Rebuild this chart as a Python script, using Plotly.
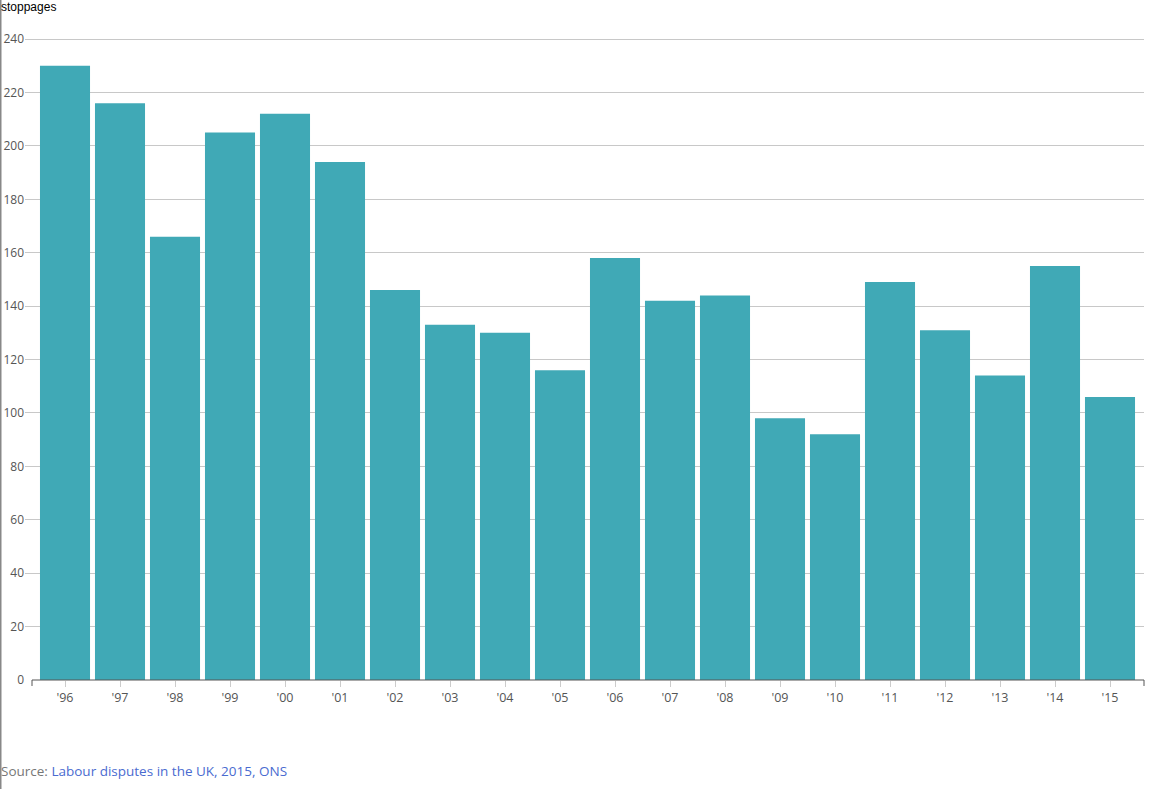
import plotly.graph_objects as go

years = ["'96", "'97", "'98", "'99", "'00", "'01", "'02", "'03", "'04", "'05",
         "'06", "'07", "'08", "'09", "'10", "'11", "'12", "'13", "'14", "'15"]
stoppages = [230, 216, 166, 205, 212, 194, 146, 133, 130, 116,
             158, 142, 144, 98, 92, 149, 131, 114, 155, 106]
y_ticks = [0, 20, 40, 60, 80, 100, 120, 140, 160, 180, 200, 220, 240]

W, H = 1149, 789
Y0_PX, Y240_PX = 680, 39
ppu = (Y0_PX - Y240_PX) / 240.0
YMAX = 240.4
ML, MR = 25, 5
MB = H - Y0_PX
PH = YMAX * ppu
MT = Y0_PX - PH
PW = W - ML - MR

fig = go.Figure()
fig.add_trace(go.Bar(
    x=list(range(len(years))), y=stoppages,
    marker=dict(color="#40a9b6", line=dict(width=0)),
    width=0.91,
    hoverinfo="x+y",
))

step = 55.0
left_units = (65 - ML) / step
right_units = (ML + PW - 1110) / step

fig.update_layout(
    width=W, height=H,
    margin=dict(l=ML, r=MR, t=MT, b=MB, pad=0, autoexpand=False),
    plot_bgcolor="white", paper_bgcolor="white",
    showlegend=False,
    font=dict(family="Open Sans", size=12, color="#555"),
    xaxis=dict(
        range=[-left_units, len(years) - 1 + right_units],
        tickmode="array", tickvals=list(range(len(years))), ticktext=years,
        showgrid=False, zeroline=False, showline=False, automargin=False,
        ticks="outside", ticklen=6, tickcolor="#ccc", tickwidth=1,
        tickfont=dict(family="Open Sans", size=12.5, color="#555"),
    ),
    yaxis=dict(
        range=[0, YMAX], tickmode="array", tickvals=y_ticks,
        showgrid=True, gridcolor="#c8c8c8", gridwidth=1, automargin=False,
        zeroline=False, showline=False, ticks="",
        tickfont=dict(family="Open Sans", size=12, color="#555"),
    ),
)

# x axis domain line with outer end ticks
x0p = (32 - ML) / PW
fig.add_shape(type="line", xref="paper", yref="paper", x0=x0p, x1=1, y0=0, y1=0,
              line=dict(color="#555", width=1))
fig.add_shape(type="line", xref="paper", yref="paper", x0=x0p, x1=x0p, y0=0, y1=-6 / PH,
              line=dict(color="#555", width=1))
fig.add_shape(type="line", xref="paper", yref="paper", x0=1, x1=1, y0=0, y1=-6 / PH,
              line=dict(color="#555", width=1))
# page left border
fig.add_shape(type="line", xref="paper", yref="paper", x0=-(ML - 0.75) / PW, x1=-(ML - 0.75) / PW,
              y0=-(MB) / PH, y1=1 + MT / PH, line=dict(color="#888", width=1.5))

fig.add_annotation(text="stoppages", xref="paper", yref="paper",
                   x=-(ML + 1) / PW, y=1 + (MT - 7) / PH, xanchor="left", yanchor="middle",
                   showarrow=False, font=dict(family="Liberation Sans", size=12, color="#000"))
fig.add_annotation(text="Source: <span style='color:#4a6bd0'>Labour disputes in the UK, 2015, ONS</span>",
                   xref="paper", yref="paper",
                   x=-(ML + 1) / PW, y=-(771 - Y0_PX) / PH, xanchor="left", yanchor="middle",
                   showarrow=False, font=dict(family="Open Sans", size=13.5, color="#777"))

fig.write_html("out.html", config={"displayModeBar": False},
               post_script="document.body.style.margin='0';document.body.style.overflow='hidden';")
